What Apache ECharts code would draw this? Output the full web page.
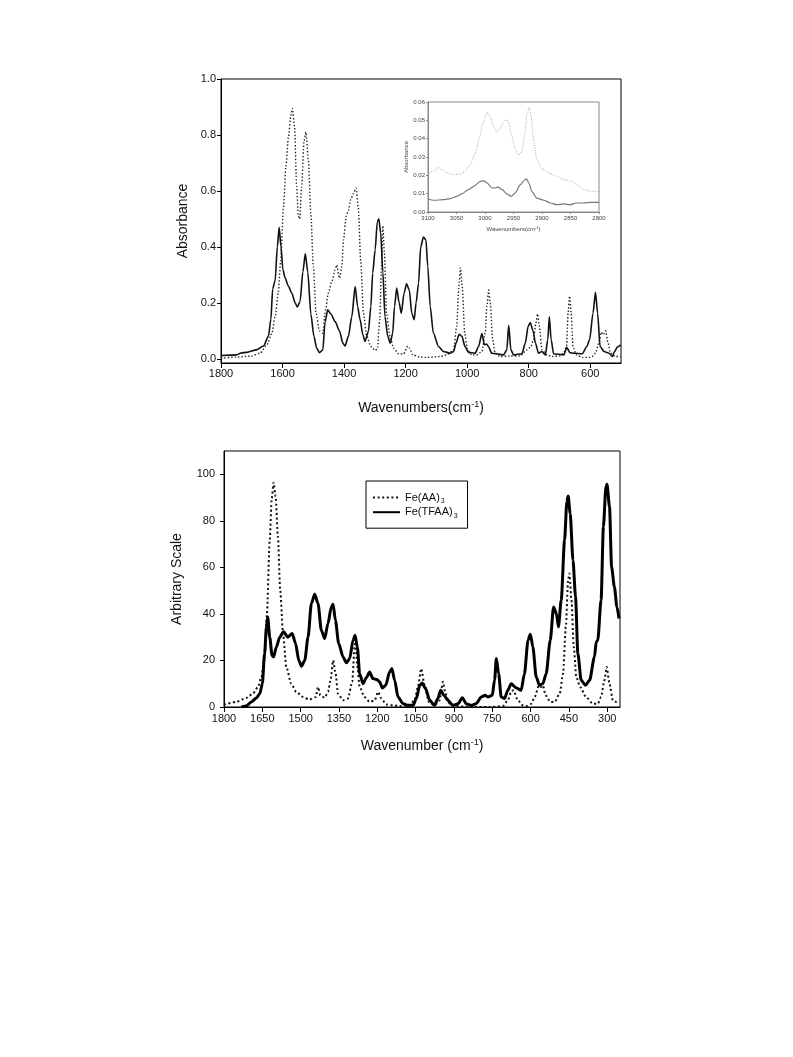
<!DOCTYPE html>
<html>
<head>
<meta charset="utf-8">
<script src="https://cdn.jsdelivr.net/npm/echarts@6/dist/echarts.min.js"></script>
<style>html,body{margin:0;padding:0;background:#fff}#c{width:793px;height:1057px}</style>
</head>
<body>
<div id="c"></div>
<script>
// ---------- DATA ----------
// Top IR spectrum, wavenumber (cm-1) vs absorbance
const irSolid = [[1800,0.012],[1749,0.014],[1735,0.021],[1717,0.023],[1684,0.032],[1662,0.046],[1646,0.08],[1638,0.14],[1632,0.25],[1624,0.28],[1617,0.40],[1611,0.47],[1605,0.40],[1599,0.32],[1592,0.29],[1581,0.26],[1570,0.235],[1559,0.20],[1552,0.185],[1543,0.205],[1534,0.31],[1526,0.375],[1518,0.31],[1508,0.16],[1498,0.08],[1489,0.038],[1480,0.022],[1469,0.032],[1462,0.13],[1453,0.175],[1443,0.16],[1429,0.133],[1415,0.10],[1404,0.056],[1397,0.046],[1386,0.08],[1375,0.15],[1364,0.258],[1356,0.187],[1348,0.14],[1339,0.086],[1332,0.062],[1321,0.098],[1313,0.187],[1307,0.306],[1299,0.39],[1292,0.49],[1287,0.5],[1281,0.45],[1274,0.31],[1267,0.15],[1258,0.08],[1250,0.056],[1242,0.092],[1236,0.187],[1229,0.253],[1221,0.20],[1214,0.163],[1205,0.235],[1197,0.268],[1188,0.246],[1180,0.163],[1172,0.14],[1166,0.20],[1158,0.27],[1151,0.40],[1142,0.435],[1134,0.425],[1128,0.33],[1120,0.187],[1110,0.092],[1093,0.044],[1077,0.026],[1055,0.02],[1044,0.026],[1036,0.056],[1026,0.088],[1017,0.08],[1007,0.044],[996,0.023],[974,0.02],[963,0.044],[952,0.09],[944,0.05],[937,0.053],[931,0.044],[920,0.02],[882,0.014],[871,0.032],[865,0.12],[858,0.032],[849,0.014],[822,0.018],[811,0.056],[802,0.115],[795,0.13],[786,0.10],[778,0.056],[768,0.02],[757,0.026],[746,0.014],[738,0.068],[733,0.15],[727,0.068],[719,0.018],[686,0.014],[676,0.04],[666,0.022],[653,0.02],[626,0.018],[611,0.044],[602,0.068],[591,0.163],[583,0.238],[576,0.163],[568,0.044],[555,0.026],[539,0.02],[528,0.008],[521,0.026],[512,0.042],[501,0.05]];
const irDotted = [[1800,0.002],[1750,0.006],[1700,0.01],[1673,0.02],[1651,0.05],[1635,0.09],[1624,0.15],[1614,0.235],[1606,0.35],[1597,0.54],[1589,0.69],[1581,0.79],[1573,0.87],[1568,0.895],[1561,0.83],[1554,0.615],[1549,0.51],[1544,0.50],[1538,0.615],[1530,0.78],[1524,0.81],[1516,0.71],[1508,0.52],[1500,0.33],[1491,0.163],[1480,0.10],[1469,0.092],[1462,0.163],[1451,0.235],[1440,0.276],[1429,0.318],[1424,0.335],[1415,0.288],[1407,0.33],[1402,0.425],[1393,0.51],[1386,0.53],[1378,0.57],[1370,0.59],[1361,0.61],[1354,0.545],[1346,0.35],[1337,0.163],[1326,0.08],[1313,0.044],[1299,0.03],[1292,0.035],[1284,0.14],[1279,0.31],[1274,0.475],[1269,0.38],[1262,0.163],[1251,0.08],[1239,0.038],[1223,0.018],[1207,0.017],[1193,0.045],[1187,0.038],[1177,0.014],[1153,0.006],[1131,0.005],[1088,0.008],[1066,0.014],[1044,0.032],[1034,0.115],[1027,0.258],[1022,0.325],[1016,0.258],[1008,0.092],[999,0.032],[985,0.014],[969,0.014],[952,0.026],[941,0.092],[936,0.187],[930,0.246],[925,0.20],[917,0.068],[909,0.02],[893,0.008],[861,0.01],[828,0.01],[806,0.032],[793,0.044],[784,0.068],[777,0.127],[771,0.16],[765,0.115],[757,0.032],[741,0.014],[725,0.008],[698,0.01],[687,0.02],[677,0.044],[672,0.163],[667,0.224],[662,0.163],[656,0.044],[645,0.014],[626,0.005],[605,0.005],[594,0.008],[583,0.02],[572,0.056],[564,0.095],[558,0.086],[550,0.1],[542,0.056],[534,0.02],[518,0.008],[501,0.008]];
// Inset C-H region
const insetDotted = [[3099,0.0209],[3090,0.0224],[3081,0.0242],[3075,0.0231],[3067,0.0213],[3055,0.0204],[3043,0.0207],[3035,0.0222],[3026,0.0258],[3017,0.0322],[3009,0.0413],[3004,0.0485],[2996,0.0544],[2991,0.052],[2985,0.0467],[2979,0.0435],[2973,0.0458],[2967,0.049],[2962,0.0504],[2958,0.0485],[2953,0.0413],[2947,0.034],[2941,0.031],[2935,0.033],[2930,0.043],[2926,0.054],[2922,0.0573],[2919,0.052],[2915,0.0395],[2909,0.0285],[2900,0.0235],[2885,0.0209],[2874,0.0195],[2862,0.0176],[2847,0.0167],[2839,0.0149],[2827,0.0122],[2815,0.0113],[2800,0.0113]];
const insetSolid = [[3100,0.0071],[3090,0.0064],[3073,0.0067],[3061,0.0073],[3049,0.0085],[3040,0.010],[3029,0.0122],[3020,0.014],[3008,0.0167],[3003,0.0171],[2996,0.0158],[2988,0.0131],[2982,0.0131],[2978,0.0136],[2970,0.0122],[2961,0.0098],[2954,0.0085],[2947,0.0104],[2938,0.0149],[2930,0.0176],[2927,0.018],[2923,0.0158],[2918,0.0113],[2909,0.0076],[2897,0.0064],[2885,0.0049],[2874,0.004],[2862,0.0044],[2850,0.004],[2841,0.0049],[2827,0.0049],[2815,0.0053],[2800,0.0053]];
// Bottom spectrum, wavenumber vs arbitrary scale
const feAA = [[1800,1.0],[1752,2.2],[1713,3.9],[1687,5.7],[1667,8.6],[1654,12.9],[1641,21.5],[1632,40.2],[1621,71.7],[1613,89.7],[1606,96.4],[1598,90.4],[1589,73.2],[1580,50.2],[1569,31.6],[1556,17.2],[1537,10.0],[1517,6.5],[1491,4.3],[1465,3.2],[1441,4.3],[1432,8.6],[1423,5.0],[1406,4.0],[1393,6.5],[1383,11.5],[1373,20.0],[1363,14.3],[1354,5.7],[1334,2.9],[1315,3.6],[1298,10.8],[1289,25.8],[1285,28.0],[1278,17.2],[1269,8.6],[1250,4.3],[1230,2.2],[1210,2.9],[1197,6.5],[1184,3.6],[1165,1.1],[1139,0.7],[1113,0.4],[1074,0.7],[1054,2.9],[1041,8.6],[1028,16.5],[1015,9.3],[998,2.2],[976,0.7],[956,2.9],[943,10.8],[933,5.7],[917,1.4],[891,0.4],[839,0],[760,0],[708,0.4],[689,2.9],[676,6.5],[667,7.2],[650,2.9],[630,0.7],[617,0.4],[597,1.4],[584,4.3],[567,9.3],[558,8.6],[552,9.3],[541,5.0],[523,2.2],[506,2.2],[486,5.7],[473,14.3],[462,34.4],[453,54.5],[448,57.4],[440,46.0],[431,25.8],[421,12.9],[406,8.6],[383,4.3],[356,1.4],[337,1.4],[324,4.3],[311,11.5],[302,17.2],[291,10.0],[278,2.9],[265,2.2],[252,2.4]];
const feTFAA = [[1732,0],[1713,0.4],[1693,2.2],[1673,3.9],[1660,5.7],[1650,10.0],[1641,23.0],[1634,34.4],[1629,38.7],[1621,30.0],[1612,22.2],[1606,21.5],[1595,25.8],[1582,30.0],[1567,32.3],[1550,30.0],[1533,31.6],[1520,27.3],[1507,20.0],[1497,17.5],[1484,20.0],[1471,30.0],[1458,44.5],[1445,48.5],[1432,44.5],[1419,33.0],[1406,29.4],[1393,35.9],[1380,43.0],[1373,44.2],[1364,37.3],[1351,27.3],[1334,21.5],[1321,19.0],[1308,20.8],[1295,28.7],[1287,30.8],[1278,25.8],[1269,14.3],[1256,10.0],[1243,12.6],[1230,15.0],[1217,12.2],[1201,11.8],[1191,10.8],[1180,8.2],[1167,9.3],[1152,15.0],[1143,16.5],[1132,11.5],[1119,4.3],[1099,1.4],[1080,0.7],[1060,0.7],[1047,3.6],[1034,9.3],[1024,10.3],[1011,7.9],[995,2.9],[976,0.7],[963,3.6],[952,7.2],[939,5.0],[924,2.9],[904,0.7],[884,1.4],[867,4.0],[852,1.4],[832,0.7],[813,1.4],[793,4.3],[778,5.0],[767,4.3],[750,5.0],[741,11.5],[734,20.8],[725,14.3],[715,4.3],[702,3.6],[689,7.2],[676,10.0],[657,8.3],[637,7.2],[624,14.3],[610,28.7],[601,31.3],[591,25.8],[578,12.9],[565,9.3],[552,10.0],[539,14.3],[523,28.7],[510,43.0],[499,40.2],[491,34.4],[480,46.0],[467,71.7],[458,88.2],[453,90.7],[445,83.2],[434,63.0],[424,47.3],[415,23.0],[402,11.5],[385,9.3],[369,11.5],[350,21.5],[343,28.0],[337,28.7],[324,46.0],[315,77.5],[305,94.7],[301,95.7],[291,86.0],[283,60.3],[272,51.6],[262,43.0],[254,38.0]];
// Tick labels
const topXTicks = [1800,1600,1400,1200,1000,800,600];
const topYTicks = [0,0.2,0.4,0.6,0.8,1.0];
const insetXTicks = [3100,3050,3000,2950,2900,2850,2800];
const insetYTicks = [0,0.01,0.02,0.03,0.04,0.05,0.06];
const botXTicks = [1800,1650,1500,1350,1200,1050,900,750,600,450,300];
const botYTicks = [0,20,40,60,80,100];

// ---------- CHART ----------
const FONT = '"Liberation Sans", Arial, Helvetica, sans-serif';
const chart = echarts.init(document.getElementById('c'), null, {renderer: 'canvas'});
const plain = v => String(Math.round(v));

function valueAxis(o) {
  return Object.assign({
    type: 'value',
    axisLine: {show: true, onZero: false, lineStyle: {color: '#000', width: 1}},
    axisTick: {show: true, length: 5, lineStyle: {color: '#000'}},
    splitLine: {show: false},
    axisLabel: {color: '#111', fontFamily: FONT, fontSize: 11},
    nameTextStyle: {color: '#111', fontFamily: FONT}
  }, o);
}

const supRich = (fs, col) => ({
  a: {fontSize: fs, fontFamily: FONT, color: col || '#111'},
  s: {fontSize: Math.round(fs * 0.62), fontFamily: FONT, color: col || '#111', verticalAlign: 'top', padding: [0, 0, Math.round(fs * 0.5), 0]}
});

const option = {
  backgroundColor: '#fff',
  animation: false,
  grid: [
    {left: 221, top: 79, width: 400, height: 284, show: true, borderColor: '#000', borderWidth: 1, backgroundColor: 'transparent'},
    {left: 428, top: 102, width: 171, height: 110, show: true, borderColor: '#888', borderWidth: 1, backgroundColor: '#fff'},
    {left: 224, top: 451, width: 396, height: 256, show: true, borderColor: '#000', borderWidth: 1, backgroundColor: 'transparent'}
  ],
  xAxis: [
    valueAxis({gridIndex: 0, min: 500, max: 1800, inverse: true,
      axisTick: {show: true, length: 5, customValues: topXTicks, lineStyle: {color: '#000'}},
      axisLabel: {customValues: topXTicks, formatter: plain, color: '#111', fontFamily: FONT, fontSize: 11, margin: 5},
      name: '{a|Wavenumbers(cm}{s|-1}{a|)}', nameLocation: 'middle', nameGap: 37,
      nameTextStyle: {rich: supRich(14)}}),
    valueAxis({gridIndex: 1, min: 2800, max: 3100, inverse: true,
      axisLine: {show: true, onZero: false, lineStyle: {color: '#888'}},
      axisTick: {show: true, length: 2, customValues: insetXTicks, lineStyle: {color: '#888'}},
      axisLabel: {customValues: insetXTicks, formatter: plain, color: '#444', fontFamily: FONT, fontSize: 6, margin: 3},
      name: '{a|Wavenumbers(cm}{s|-1}{a|)}', nameLocation: 'middle', nameGap: 14,
      nameTextStyle: {rich: supRich(6, '#444')}}),
    valueAxis({gridIndex: 2, min: 250, max: 1800, inverse: true,
      axisTick: {show: true, length: 5, customValues: botXTicks, lineStyle: {color: '#000'}},
      axisLabel: {customValues: botXTicks, formatter: plain, color: '#111', fontFamily: FONT, fontSize: 11, margin: 6},
      name: '{a|Wavenumber (cm}{s|-1}{a|)}', nameLocation: 'middle', nameGap: 31,
      nameTextStyle: {rich: supRich(14)}})
  ],
  yAxis: [
    valueAxis({gridIndex: 0, min: -0.015, max: 1.0,
      axisTick: {show: true, length: 4, customValues: topYTicks, lineStyle: {color: '#000'}},
      axisLabel: {customValues: topYTicks, formatter: v => v.toFixed(1), color: '#111', fontFamily: FONT, fontSize: 11, margin: 5},
      name: 'Absorbance', nameLocation: 'middle', nameGap: 28,
      nameTextStyle: {color: '#111', fontFamily: FONT, fontSize: 14}}),
    valueAxis({gridIndex: 1, min: 0, max: 0.06,
      axisLine: {show: true, onZero: false, lineStyle: {color: '#888'}},
      axisTick: {show: true, length: 2, customValues: insetYTicks, lineStyle: {color: '#888'}},
      axisLabel: {customValues: insetYTicks, formatter: v => v.toFixed(2), color: '#444', fontFamily: FONT, fontSize: 6, margin: 3},
      name: 'Absorbance', nameLocation: 'middle', nameGap: 18,
      nameTextStyle: {color: '#444', fontFamily: FONT, fontSize: 6}}),
    valueAxis({gridIndex: 2, min: 0, max: 110,
      axisTick: {show: true, length: 4, customValues: botYTicks, lineStyle: {color: '#000'}},
      axisLabel: {customValues: botYTicks, formatter: plain, color: '#111', fontFamily: FONT, fontSize: 11, margin: 9},
      name: 'Arbitrary Scale', nameLocation: 'middle', nameGap: 40,
      nameTextStyle: {color: '#111', fontFamily: FONT, fontSize: 14}})
  ],
  legend: {
    orient: 'vertical', left: 366, top: 481,
    data: ['Fe(AA)3', 'Fe(TFAA)3'],
    itemWidth: 27, itemHeight: 14, itemGap: 2,
    padding: [11, 10, 9, 6],
    borderColor: '#000', borderWidth: 1, backgroundColor: '#fff',
    selectedMode: false,
    itemStyle: {color: 'rgba(0,0,0,0)', borderColor: 'rgba(0,0,0,0)', borderWidth: 0},
    formatter: n => '{a|' + n.slice(0, -1) + '}{s|' + n.slice(-1) + '}',
    textStyle: {rich: {
      a: {fontSize: 11, fontFamily: FONT, color: '#111', lineHeight: 14},
      s: {fontSize: 7, fontFamily: FONT, color: '#111', verticalAlign: 'bottom', lineHeight: 14, padding: [5, 0, 0, 1]}
    }}
  },
  series: [
    {name: 'IR dotted', type: 'line', xAxisIndex: 0, yAxisIndex: 0, data: irDotted, showSymbol: false, symbol: 'none',
      smooth: 0.25, smoothMonotone: 'x', itemStyle: {color: '#222'}, lineStyle: {color: '#222', width: 1.4, type: [1.4, 2]}},
    {name: 'IR solid', type: 'line', xAxisIndex: 0, yAxisIndex: 0, data: irSolid, showSymbol: false, symbol: 'none',
      smooth: 0.25, smoothMonotone: 'x', itemStyle: {color: '#111'}, lineStyle: {color: '#111', width: 1.6}},
    {name: 'Inset dotted', type: 'line', xAxisIndex: 1, yAxisIndex: 1, data: insetDotted, showSymbol: false, symbol: 'none',
      smooth: 0.25, smoothMonotone: 'x', itemStyle: {color: '#aaa'}, lineStyle: {color: '#aaa', width: 1, type: [1, 1.4]}},
    {name: 'Inset solid', type: 'line', xAxisIndex: 1, yAxisIndex: 1, data: insetSolid, showSymbol: false, symbol: 'none',
      smooth: 0.25, smoothMonotone: 'x', itemStyle: {color: '#777'}, lineStyle: {color: '#777', width: 1.2}},
    {name: 'Fe(AA)3', type: 'line', xAxisIndex: 2, yAxisIndex: 2, data: feAA, showSymbol: false, symbol: 'none',
      smooth: 0.25, smoothMonotone: 'x', itemStyle: {color: '#111'}, lineStyle: {color: '#111', width: 2, type: [2, 2.6]}},
    {name: 'Fe(TFAA)3', type: 'line', xAxisIndex: 2, yAxisIndex: 2, data: feTFAA, showSymbol: false, symbol: 'none',
      smooth: 0.25, smoothMonotone: 'x', itemStyle: {color: '#000'}, lineStyle: {color: '#000', width: 3}}
  ]
};
chart.setOption(option);
</script>
</body>
</html>
